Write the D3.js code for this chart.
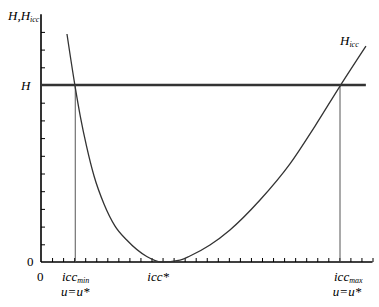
<!DOCTYPE html>
<html>
<head>
<meta charset="utf-8">
<script src="https://cdn.jsdelivr.net/npm/d3@7"></script>
<style>
  body { margin: 0; background: #fff; }
  text { font-family: "Liberation Serif", "DejaVu Serif", serif; fill: #000; }
</style>
</head>
<body>
<div id="chart"></div>
<script>
// curve H_icc (x in tick units, y in tick units)
const curveX = [2.35, 3.08, 3.57, 4.12, 4.80, 5.70, 6.70, 7.76, 9.57, 10.86, 12.58, 13.48, 15.29, 17.10, 19.82, 22.53, 24.80, 27.06, 29.41];
const curveY = [12.88, 9.94, 8.19, 6.55, 4.86, 3.28, 2.03, 1.24, 0.31, 0.0, 0.11, 0.34, 0.96, 1.81, 3.50, 5.54, 7.68, 9.94, 12.20];

const hLevel = 10;
const hEnd = 29.4;
const iccMin = 3.1;
const iccStar = 10.6;
const iccMax = 27.06;

const xTicks = d3.range(1, 31);
const yTicks = d3.range(1, 14);

const svg = d3.select("#chart")
    .append("svg")
    .attr("width", 379)
    .attr("height", 307);

const x = d3.scaleLinear().domain([0, 30]).range([41, 372.5]);
const y = d3.scaleLinear().domain([0, 14]).range([262, 14.2]);

// axes, ticks pointing inward
svg.append("g")
    .attr("transform", `translate(0,${y(0)})`)
    .call(d3.axisTop(x).tickValues(xTicks).tickSize(4).tickFormat(""))
    .call(g => g.select(".domain").attr("d", `M${x(0)},0H${x(30)}`).attr("stroke-width", 1.6))
    .call(g => g.selectAll(".tick line").attr("stroke-width", 1));

svg.append("g")
    .attr("transform", `translate(${x(0)},0)`)
    .call(d3.axisRight(y).tickValues(yTicks).tickSize(4).tickFormat(""))
    .call(g => g.select(".domain").attr("d", `M0,${y(0)}V${y(14)}`).attr("stroke-width", 1.6))
    .call(g => g.selectAll(".tick line").attr("stroke-width", 1));

// H level line
svg.append("line")
    .attr("x1", x(0)).attr("x2", x(hEnd))
    .attr("y1", y(hLevel)).attr("y2", y(hLevel))
    .attr("stroke", "#333").attr("stroke-width", 2.4);

// vertical drop lines
svg.selectAll(".drop")
    .data([iccMin, iccMax])
    .join("line")
    .attr("x1", d => x(d)).attr("x2", d => x(d))
    .attr("y1", y(0)).attr("y2", y(hLevel))
    .attr("stroke", "#555").attr("stroke-width", 1);

// the curve
const pts = curveX.map((v, i) => [v, curveY[i]]);
svg.append("path")
    .datum(pts)
    .attr("fill", "none")
    .attr("stroke", "#333")
    .attr("stroke-width", 1.3)
    .attr("d", d3.line().x(d => x(d[0])).y(d => y(d[1])).curve(d3.curveMonotoneX));

// labels
function label(px, py, main, sub, size, anchor) {
    const t = svg.append("text")
        .attr("x", px).attr("y", py)
        .attr("font-size", size || 13)
        .attr("font-style", "italic")
        .attr("text-anchor", anchor || "start");
    t.append("tspan").text(main);
    if (sub) t.append("tspan").attr("font-size", 8).attr("dy", 2).text(sub);
    return t;
}

label(8, 20, "H,H", "icc");
label(21, 90, "H");
label(340, 45, "H", "icc");

svg.append("text").attr("x", 27).attr("y", 266).attr("font-size", 13).text("0");
svg.append("text").attr("x", 37).attr("y", 281).attr("font-size", 13).text("0");

label(62, 281, "icc", "min");
label(x(iccMin), 296, "u=u*", null, 13, "middle");
label(x(iccStar), 281, "icc*", null, 13, "middle");
label(334, 281, "icc", "max");
label(347, 296, "u=u*", null, 13, "middle");
</script>
</body>
</html>
